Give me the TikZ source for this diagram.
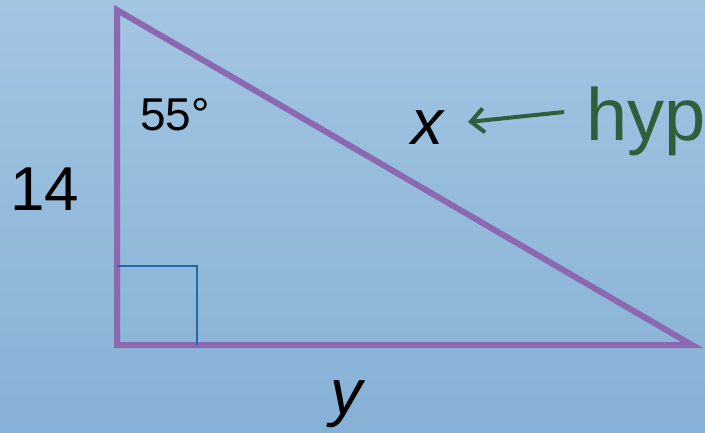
\documentclass[tikz,border=0pt]{standalone}
\usepackage{fontspec}
\setmainfont{Liberation Sans}
\usetikzlibrary{arrows.meta}
\definecolor{bgtop}{RGB}{162,197,226}
\definecolor{bgbot}{RGB}{134,177,214}
\definecolor{tri}{RGB}{139,104,176}
\definecolor{sq}{RGB}{40,104,168}
\definecolor{hypgreen}{RGB}{46,94,58}
\tikzset{
  side/.style={draw=tri, line width=6pt, line join=miter},
  lbl/.style={inner sep=0pt, anchor=base, text=black},
}
\begin{document}
\begin{tikzpicture}[x=1pt,y=-1pt]
\shade[top color=bgtop, bottom color=bgbot] (0,0) rectangle (705,432);
\useasboundingbox (0,0) rectangle (705,432);
\coordinate (A) at (117,10);
\coordinate (B) at (117,345);
\coordinate (C) at (692,345);
\draw[side] (A) -- (B) -- (C) -- cycle;
\coordinate (S1) at (117,266);
\coordinate (S2) at (197,266);
\coordinate (S3) at (197,345);
\draw[draw=sq, line width=2pt] (S1) -- (S2) -- (S3);
\node[lbl, font=\fontsize{46}{46}\selectfont] (ang) at (175,130) {55°};
\node[lbl, font=\fontsize{62}{62}\selectfont] (fourteen) at (45,210) {14};
\node[lbl, font=\fontsize{64}{64}\selectfont\itshape] (xl) at (427,144) {x};
\node[lbl, font=\fontsize{64}{64}\selectfont\itshape] (yl) at (346,414) {y};
\node[lbl, font=\fontsize{74}{74}\selectfont, text=hypgreen, anchor=base west] (hyp) at (586,140) {hyp};
\coordinate (tail) at (564,112);
\coordinate (tip) at (468,122);
\draw[draw=hypgreen, line width=4pt, -{Straight Barb[length=13pt,width=24pt,line width=4pt]}] (tail) -- (tip);
\end{tikzpicture}
\end{document}
